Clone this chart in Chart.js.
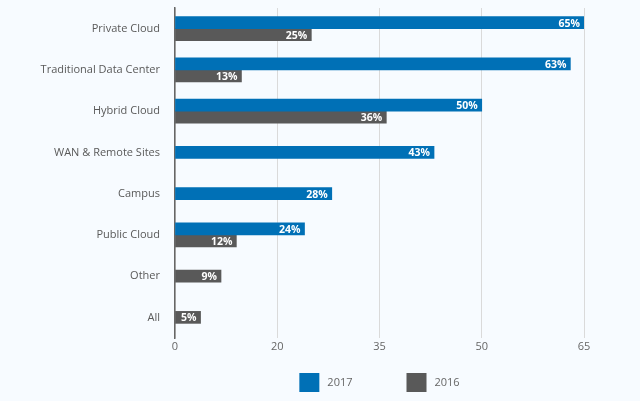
<!DOCTYPE html>
<html>
<head>
<meta charset="utf-8">
<title>Deployment by environment</title>
<script src="https://cdn.jsdelivr.net/npm/chart.js@4.4.1/dist/chart.umd.min.js"></script>
<style>
body{margin:0;background:#f7fbff}
canvas{display:block}
</style>
</head>
<body>
<canvas id="chart" width="640" height="401"></canvas>
<script>
// data
const categories = ["Private Cloud", "Traditional Data Center", "Hybrid Cloud", "WAN & Remote Sites", "Campus", "Public Cloud", "Other", "All"]
const values2017 = [65, 63, 50, 43, 28, 24, null, null]
const values2016 = [25, 13, 36, null, null, 12, 9, 5]
const xTickValues = [0, 20, 35, 50, 65]

const fontFamily = "'Open Sans', 'DejaVu Sans', sans-serif"

// the x axis of the original is evenly spaced between 0,20,35,50,65
class PiecewiseScale extends Chart.LinearScale {
getPixelForValue(value){
if(value === null || isNaN(value)) return NaN
let b = xTickValues
let i = 0
while(i < b.length - 2 && value > b[i+1]) i++
let frac = (i + (value - b[i]) / (b[i+1] - b[i])) / (b.length - 1)
return this.getPixelForDecimal(frac)
}
getValueForPixel(pixel){
let d = this.getDecimalForPixel(pixel) * (xTickValues.length - 1)
let i = Math.max(0, Math.min(Math.floor(d), xTickValues.length - 2))
return xTickValues[i] + (d - i) * (xTickValues[i+1] - xTickValues[i])
}
}
PiecewiseScale.id = "piecewise"
PiecewiseScale.defaults = Chart.LinearScale.defaults
Chart.register(PiecewiseScale)

// white % labels inside the bar ends
const barLabels = {
id: "barLabels",
afterDatasetsDraw(chart){
let ctx = chart.ctx
ctx.save()
ctx.font = "bold 10.5px " + fontFamily
ctx.fillStyle = "#ffffff"
ctx.textAlign = "right"
ctx.textBaseline = "middle"
chart.data.datasets.forEach((ds, di) => {
let meta = chart.getDatasetMeta(di)
meta.data.forEach((bar, i) => {
if(ds.data[i] === null) return
ctx.fillText(ds.data[i] + "%", bar.x - 4, bar.y + 1)
})
})
ctx.restore()
}
}

// legend drawn under the axis, centred on the plot area
const bottomLegend = {
id: "bottomLegend",
afterDraw(chart){
let ctx = chart.ctx
let area = chart.chartArea
ctx.save()
ctx.font = "11px " + fontFamily
let boxW = 20, boxH = 19, gap = 8, between = 54
let widths = chart.data.datasets.map(ds => boxW + gap + ctx.measureText(ds.label).width)
let total = widths.reduce((a, b) => a + b, 0) + between * (widths.length - 1)
let x = (area.left + area.right) / 2 - total / 2
let y = 373
chart.data.datasets.forEach((ds, i) => {
ctx.fillStyle = ds.backgroundColor
ctx.fillRect(x, y, boxW, boxH)
ctx.fillStyle = "#666666"
ctx.textBaseline = "middle"
ctx.textAlign = "left"
ctx.fillText(ds.label, x + boxW + gap, y + boxH / 2)
x += widths[i] + between
})
ctx.restore()
}
}

let ctx = document.getElementById("chart").getContext("2d")

new Chart(ctx, {
type: "bar",
data: {
labels: categories,
datasets: [
{
label: "2017",
data: values2017,
backgroundColor: "#0070b6",
barThickness: 12,
skipNull: true
},
{
label: "2016",
data: values2016,
backgroundColor: "#595959",
barThickness: 12,
skipNull: true
}
]
},
options: {
indexAxis: "y",
responsive: false,
animation: false,
layout: {
padding: {top: 8, right: 56, bottom: 43, left: 0}
},
plugins: {
legend: {display: false},
tooltip: {enabled: false}
},
scales: {
x: {
type: "piecewise",
min: 0,
max: 65,
afterBuildTicks: axis => { axis.ticks = xTickValues.map(v => ({value: v})) },
afterFit: axis => { axis.height = 20 },
grid: {
color: "#dadada",
lineWidth: 1,
drawTicks: false
},
border: {display: false},
ticks: {
padding: 2,
color: "#666666",
font: {family: fontFamily, size: 11},
callback: v => v
}
},
y: {
afterFit: axis => {
axis.width = 175
axis.paddingTop = 0
axis.paddingBottom = 0
},
grid: {display: false, drawTicks: false},
border: {display: true, color: "#666666", width: 1.5},
ticks: {
padding: 15,
color: "#595959",
font: {family: fontFamily, size: 11}
}
}
}
},
plugins: [barLabels, bottomLegend]
})
</script>
</body>
</html>
